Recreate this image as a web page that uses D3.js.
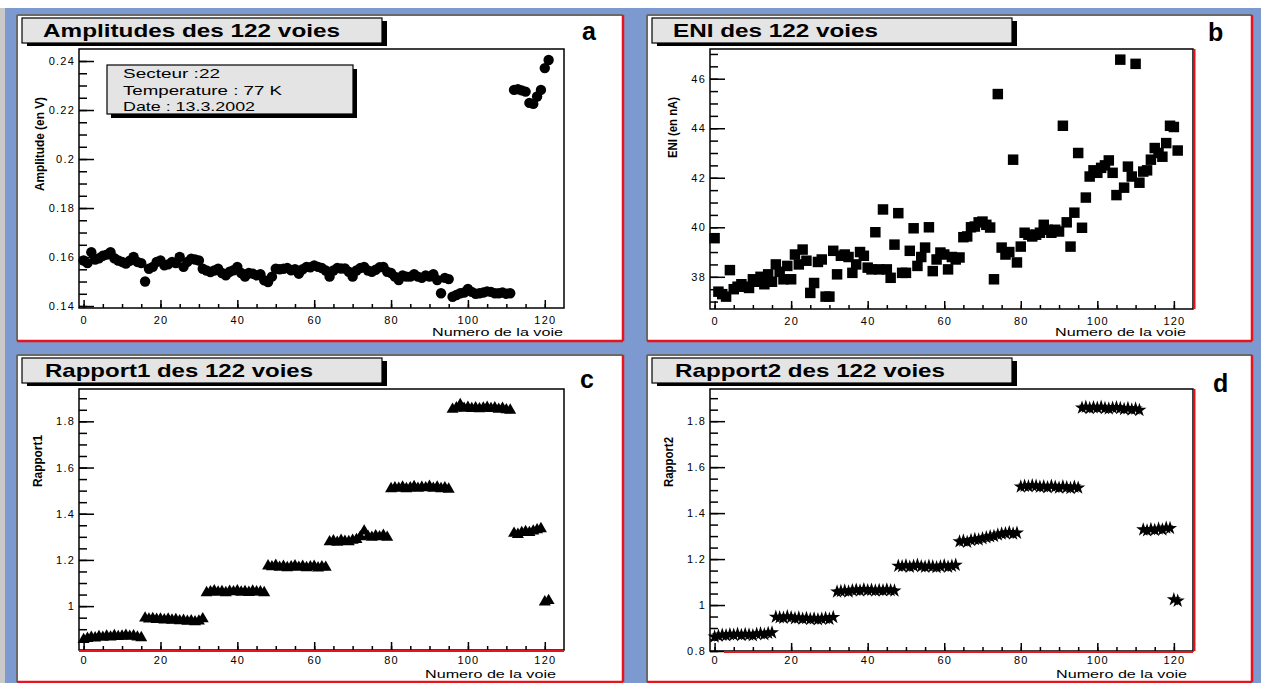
<!DOCTYPE html>
<html><head><meta charset="utf-8">
<script src="https://cdn.jsdelivr.net/npm/d3@7"></script>
<style>
html,body{margin:0;padding:0;background:#fff;overflow:hidden}
svg{display:block}
text{font-family:"Liberation Sans",Arial,sans-serif}
</style></head><body>
<svg id="chart" width="1261" height="683"></svg>
<script>
// ---------------- data ----------------
const channels = d3.range(122);
const xTicks = [0, 20, 40, 60, 80, 100, 120];

const amplitude = [
 0.1586,0.1575,0.162,0.159,0.1595,0.1605,0.161,0.162,0.1595,0.1586,
 0.158,0.1573,0.1585,0.16,0.158,0.1575,0.150,0.1552,0.156,0.158,
 0.1586,0.1566,0.157,0.158,0.1575,0.16,0.156,0.158,0.1593,0.159,
 0.1586,0.1552,0.1545,0.1539,0.1545,0.1552,0.1535,0.1525,0.154,0.1546,
 0.156,0.1535,0.152,0.1535,0.1532,0.1525,0.153,0.1505,0.1498,0.152,
 0.1552,0.155,0.1552,0.1555,0.1546,0.155,0.1532,0.155,0.156,0.1558,
 0.1566,0.156,0.1555,0.1545,0.152,0.1545,0.1555,0.1553,0.1553,0.154,
 0.152,0.1545,0.1555,0.156,0.1545,0.154,0.1548,0.1558,0.156,0.154,
 0.1535,0.152,0.1506,0.1525,0.152,0.152,0.153,0.152,0.1515,0.1525,
 0.152,0.153,0.1506,0.1452,0.1515,0.151,0.1438,0.1445,0.1452,0.1455,
 0.147,0.1458,0.145,0.1452,0.1455,0.146,0.1458,0.1452,0.1452,0.1455,
 0.145,0.1452,0.2282,0.2285,0.228,0.2275,0.2229,0.2225,0.2255,0.2282,
 0.2371,0.2404];
const amplitudeTicks = [0.14, 0.16, 0.18, 0.2, 0.22, 0.24];

const eni = [
 39.56,37.4,37.3,37.2,38.27,37.5,37.6,37.7,37.6,37.55,
 37.9,37.8,38.0,37.7,38.1,37.8,38.5,38.2,37.9,38.44,
 37.9,38.9,38.5,39.1,38.65,37.35,37.75,38.6,38.7,37.2,
 37.2,39.05,38.1,38.85,38.9,38.8,38.16,38.5,39.0,38.85,
 38.37,38.3,39.8,38.3,40.72,38.3,37.96,39.3,40.57,38.16,
 38.16,39.05,39.96,38.44,38.8,39.18,40.0,38.23,38.7,38.98,
 38.9,38.3,38.8,38.7,38.78,39.6,39.63,40.0,40.03,40.2,
 40.23,40.1,39.99,37.9,45.38,39.18,38.9,39.0,42.73,38.58,
 39.22,39.78,39.7,39.63,39.7,39.78,40.1,39.9,39.78,39.9,
 39.83,44.1,40.2,39.22,40.59,43.0,39.98,41.2,42.05,42.3,
 42.2,42.4,42.5,42.7,42.2,41.3,46.77,41.6,42.45,42.05,
 46.6,41.8,42.25,42.3,42.73,43.2,43.0,42.85,43.4,44.1,
 44.05,43.1];
const eniTicks = [38, 40, 42, 44, 46];

const rapport1 = [
 0.855,0.86,0.865,0.862,0.868,0.865,0.87,0.866,0.872,0.868,0.87,0.873,0.869,0.871,0.866,0.863,
 0.948,0.944,0.946,0.942,0.944,0.94,0.943,0.939,0.941,0.936,0.938,0.934,0.936,0.932,0.935,0.945,
 1.058,1.062,1.066,1.06,1.063,1.058,1.064,1.062,1.066,1.06,1.063,1.059,1.065,1.061,1.062,1.058,
 1.174,1.17,1.176,1.168,1.172,1.166,1.17,1.174,1.168,1.172,1.166,1.17,1.172,1.165,1.17,1.168,
 1.278,1.282,1.276,1.284,1.28,1.279,1.285,1.288,
 1.3,1.325,1.302,1.298,1.304,1.3,1.306,1.298,
 1.508,1.512,1.51,1.515,1.508,1.512,1.517,1.51,1.514,1.512,1.518,1.51,1.515,1.508,1.512,1.506,
 1.852,1.858,1.872,1.856,1.86,1.855,1.858,1.854,1.857,1.86,1.855,1.858,1.852,1.856,1.85,1.848,
 1.315,1.31,1.318,1.322,1.318,1.325,1.33,1.335,
 1.018,1.024];
const rapport1Ticks = [1, 1.2, 1.4, 1.6, 1.8];

const rapport2 = [
 0.862,0.866,0.87,0.868,0.872,0.87,0.874,0.869,0.873,0.871,0.868,0.874,0.876,0.872,0.878,0.88,
 0.948,0.946,0.944,0.95,0.946,0.942,0.945,0.94,0.943,0.938,0.941,0.937,0.94,0.943,0.939,0.947,
 1.058,1.06,1.062,1.058,1.064,1.066,1.062,1.068,1.064,1.066,1.062,1.065,1.063,1.067,1.064,1.062,
 1.17,1.168,1.172,1.166,1.17,1.174,1.168,1.166,1.17,1.168,1.164,1.168,1.172,1.166,1.17,1.174,
 1.276,1.28,1.274,1.282,1.286,1.284,1.29,1.294,1.298,1.3,1.306,1.31,1.312,1.316,1.31,1.314,
 1.515,1.518,1.516,1.52,1.518,1.514,1.516,1.512,1.518,1.514,1.51,1.516,1.512,1.508,1.514,1.51,
 1.858,1.862,1.856,1.86,1.858,1.862,1.856,1.854,1.858,1.86,1.856,1.852,1.856,1.85,1.854,1.848,
 1.328,1.324,1.33,1.326,1.332,1.328,1.336,1.334,
 1.024,1.018];
const rapport2Ticks = [0.8, 1, 1.2, 1.4, 1.6, 1.8];

const infoLines = ["Secteur :22", "Temperature : 77 K", "Date : 13.3.2002"];

// ---------------- drawing ----------------
const svg = d3.select("#chart");
const BLUE = "rgb(124,154,208)", RED = "#e8141c";
svg.append("rect").attr("width",1261).attr("height",683).attr("fill",BLUE);
svg.append("rect").attr("width",1261).attr("height",8).attr("fill","#fff");
svg.append("rect").attr("x",0).attr("y",8).attr("width",5).attr("height",675).attr("fill","#c9c9c9");

const xDomain = [-1.2, 125];

const panels = [
 {px:17, py:15, pw:606, ph:326, fx:79, fy:49, fw:485, fh:259,
  title:"Amplitudes des 122 voies", tx:43, tlen:297, tb:[22,18,360,25],
  letter:"a", lx:582, ly:40,
  values:amplitude, yDomain:[0.1392,0.2449], ticks:amplitudeTicks, minorStep:0.005,
  ytitle:"Amplitude (en V)", ytx:44, yty:97, ytlen:94,
  xlabelEnd:563, xlabelY:336, xpad:8, symbol:d3.symbolCircle, size:85, info:true},
 {px:647, py:15, pw:605, ph:326, fx:710, fy:49, fw:483, fh:260,
  title:"ENI des 122 voies", tx:673, tlen:205, tb:[652,18,360,25],
  letter:"b", lx:1208, ly:41,
  values:eni, yDomain:[36.7,47.2], ticks:eniTicks, minorStep:0.5,
  ytitle:"ENI (en nA)", ytx:677, yty:97, ytlen:61,
  xlabelEnd:1186, xlabelY:336, xpad:8, symbol:d3.symbolSquare, size:110, redRight:true},
 {px:17, py:355, pw:606, ph:327, fx:79, fy:389, fw:485, fh:261,
  title:"Rapport1 des 122 voies", tx:45, tlen:268, tb:[22,358,360,25],
  letter:"c", lx:580, ly:388,
  values:rapport1, yDomain:[0.81,1.94], ticks:rapport1Ticks, minorStep:0.05,
  ytitle:"Rapport1", ytx:42, yty:435, ytlen:52,
  xlabelEnd:556, xlabelY:678, xpad:6, symbol:d3.symbolTriangle, size:62, redBottom:79},
 {px:647, py:355, pw:605, ph:327, fx:710, fy:389, fw:483, fh:262,
  title:"Rapport2 des 122 voies", tx:675, tlen:270, tb:[652,358,360,25],
  letter:"d", lx:1213, ly:392,
  values:rapport2, yDomain:[0.8,1.94], ticks:rapport2Ticks, minorStep:0.05,
  ytitle:"Rapport2", ytx:673, yty:437, ytlen:50,
  xlabelEnd:1187, xlabelY:678, xpad:5, symbol:d3.symbolStar, size:62, redRight:true, redBottom:724}
];

function drawPanel(p){
  const g = svg.append("g");
  g.append("rect").attr("x",p.px).attr("y",p.py).attr("width",p.pw).attr("height",p.ph).attr("fill","#fff");
  g.append("line").attr("x1",p.px).attr("y1",p.py).attr("x2",p.px).attr("y2",p.py+p.ph).attr("stroke","#6a6a6a").attr("stroke-width",2);
  g.append("line").attr("x1",p.px).attr("y1",p.py).attr("x2",p.px+p.pw).attr("y2",p.py).attr("stroke","#6a6a6a").attr("stroke-width",2);
  g.append("line").attr("x1",p.px+p.pw).attr("y1",p.py).attr("x2",p.px+p.pw).attr("y2",p.py+p.ph).attr("stroke",RED).attr("stroke-width",2.5);
  g.append("line").attr("x1",p.px).attr("y1",p.py+p.ph).attr("x2",p.px+p.pw).attr("y2",p.py+p.ph).attr("stroke",RED).attr("stroke-width",2.5);

  // title box
  const [bx,by,bw,bh] = p.tb;
  g.append("rect").attr("x",bx+5).attr("y",by+3).attr("width",bw).attr("height",bh).attr("fill","#000");
  g.append("rect").attr("x",bx).attr("y",by).attr("width",bw).attr("height",bh).attr("fill","#e4e4e4").attr("stroke","#000").attr("stroke-width",1.2);
  g.append("text").attr("x",p.tx).attr("y",by+19).attr("font-size",19).attr("font-weight","bold")
    .attr("textLength",p.tlen).attr("lengthAdjust","spacingAndGlyphs").text(p.title);

  g.append("text").attr("x",p.lx).attr("y",p.ly).attr("font-size",25).attr("font-weight","bold").text(p.letter);

  const x = d3.scaleLinear().domain(xDomain).range([p.fx, p.fx+p.fw]);
  const y = d3.scaleLinear().domain(p.yDomain).range([p.fy+p.fh, p.fy]);

  // frame
  g.append("rect").attr("x",p.fx).attr("y",p.fy).attr("width",p.fw).attr("height",p.fh)
    .attr("fill","none").attr("stroke","#000").attr("stroke-width",1.5);

  // y axis
  const yMinor = d3.range(Math.ceil(p.yDomain[0]/p.minorStep), Math.floor(p.yDomain[1]/p.minorStep)+1)
      .map(i => +(i*p.minorStep).toFixed(4));
  const gym = g.append("g").attr("transform",`translate(${p.fx},0)`)
    .call(d3.axisLeft(y).tickValues(yMinor).tickSize(-8).tickFormat(""));
  const gy = g.append("g").attr("transform",`translate(${p.fx},0)`)
    .call(d3.axisLeft(y).tickValues(p.ticks).tickSize(-15).tickPadding(4).tickFormat(d=>String(d)));
  // x axis
  const xMinor = d3.range(0, 125, 5);
  const gxm = g.append("g").attr("transform",`translate(0,${p.fy+p.fh})`)
    .call(d3.axisBottom(x).tickValues(xMinor).tickSize(-4).tickFormat(""));
  const gx = g.append("g").attr("transform",`translate(0,${p.fy+p.fh})`)
    .call(d3.axisBottom(x).tickValues(xTicks).tickSize(-8).tickPadding(p.xpad).tickFormat(d=>String(d)));
  [gym,gy,gxm,gx].forEach(a=>{
    a.select(".domain").remove();
    a.selectAll(".tick line").attr("stroke","#000").attr("stroke-width",1.5);
    a.selectAll(".tick text").attr("font-size",11).attr("fill","#000")
      .attr("letter-spacing","1.2px").attr("font-family","Liberation Sans, Arial, sans-serif");
  });

  if (p.redRight) g.append("line").attr("x1",p.fx+p.fw+1.5).attr("x2",p.fx+p.fw+1.5)
      .attr("y1",p.fy).attr("y2",p.fy+p.fh).attr("stroke",RED).attr("stroke-width",2);
  if (p.redBottom) g.append("line").attr("x1",p.redBottom).attr("x2",p.fx+p.fw)
      .attr("y1",p.fy+p.fh+1).attr("y2",p.fy+p.fh+1).attr("stroke",RED).attr("stroke-width",2);

  // axis titles
  g.append("text").attr("x",p.xlabelEnd).attr("y",p.xlabelY).attr("text-anchor","end")
    .attr("font-size",11).attr("textLength",131).attr("lengthAdjust","spacingAndGlyphs").text("Numero de la voie");
  g.append("text").attr("transform",`translate(${p.ytx},${p.yty}) rotate(-90)`).attr("text-anchor","end")
    .attr("font-size",12).attr("font-weight","bold").attr("textLength",p.ytlen).attr("lengthAdjust","spacingAndGlyphs")
    .text(p.ytitle);

  // points
  const sym = d3.symbol().type(p.symbol).size(p.size);
  g.append("g").selectAll("path").data(channels).join("path")
    .attr("transform", i => `translate(${x(i)},${y(p.values[i])})`)
    .attr("d", sym).attr("fill","#000");

  if (p.info){
    g.append("rect").attr("x",111).attr("y",69).attr("width",246).attr("height",49).attr("fill","#000");
    g.append("rect").attr("x",107).attr("y",65).attr("width",246).attr("height",49).attr("fill","#e4e4e4").attr("stroke","#000").attr("stroke-width",1.2);
    const lens = [97,159,132];
    infoLines.forEach((t,k)=>{
      g.append("text").attr("x",123).attr("y",78+k*16.5).attr("font-size",13)
        .attr("textLength",lens[k]).attr("lengthAdjust","spacingAndGlyphs").text(t);
    });
  }
}
panels.forEach(drawPanel);
</script>
</body></html>
